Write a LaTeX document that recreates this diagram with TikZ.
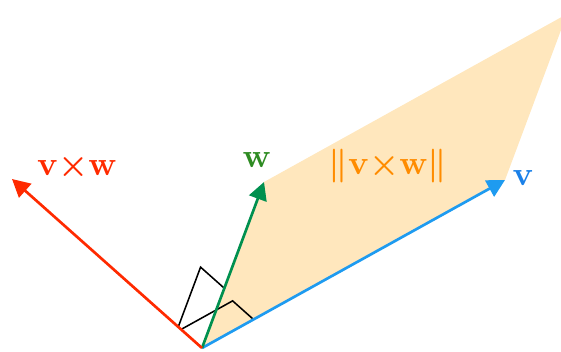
\documentclass[tikz,border=0pt]{standalone}
\usepackage{amsmath,amssymb}
\usetikzlibrary{arrows.meta,calc}
\definecolor{vblue}{HTML}{1E9BF0}
\definecolor{vlabel}{HTML}{1A80E8}
\definecolor{wgreen}{HTML}{00904F}
\definecolor{wlabel}{HTML}{2E8B22}
\definecolor{cred}{HTML}{FF2A00}
\definecolor{areaorange}{HTML}{FF8C00}
\definecolor{areafill}{HTML}{FFE7BD}

\begin{document}
\begin{tikzpicture}[x=0.0125cm, y=0.0125cm, >={Triangle[length=6.3pt,width=6.5pt]},
    vec/.style={->, line width=0.95pt},
    lab/.style={scale=1.2, font=\boldmath}]
  \useasboundingbox (0,0) rectangle (561,351);
  \clip (0,0) rectangle (561,351);
  \coordinate (O) at (202,3);
  \coordinate (v) at (505,171);
  \coordinate (w) at (264,169);
  \coordinate (vw) at (567,337);
  \coordinate (c) at (12,172);
  % area of the parallelogram
  \fill[areafill] (O) -- (v) -- (vw) -- (w) -- cycle;
  % right angle marks
  \coordinate (a1) at ($(O)!0.125!(c)$);
  \coordinate (b1) at ($(O)!0.36!(w)$);
  \coordinate (a2) at ($(O)!0.11!(c)$);
  \coordinate (b2) at ($(O)!0.17!(v)$);
  \draw[line width=0.55pt] (a1) -- ($(a1)+(b1)-(O)$) -- (b1);
  \draw[line width=0.55pt] (a2) -- ($(a2)+(b2)-(O)$) -- (b2);
  % vectors
  \draw[vec, vblue] (O) -- (v);
  \draw[vec, wgreen] (O) -- (w);
  \draw[vec, cred] (O) -- (c);
  \node[lab, vlabel] (vlab) at (523,173) {$\mathbf{v}$};
  \node[lab, wlabel] (wlab) at (257,191) {$\mathbf{w}$};
  \node[lab, cred] (clab) at (77,184) {$\mathbf{v}{\times}\mathbf{w}$};
  \node[lab, areaorange] (alab) at (388,185) {$\|\mathbf{v}{\times}\mathbf{w}\|$};
\end{tikzpicture}
\end{document}
